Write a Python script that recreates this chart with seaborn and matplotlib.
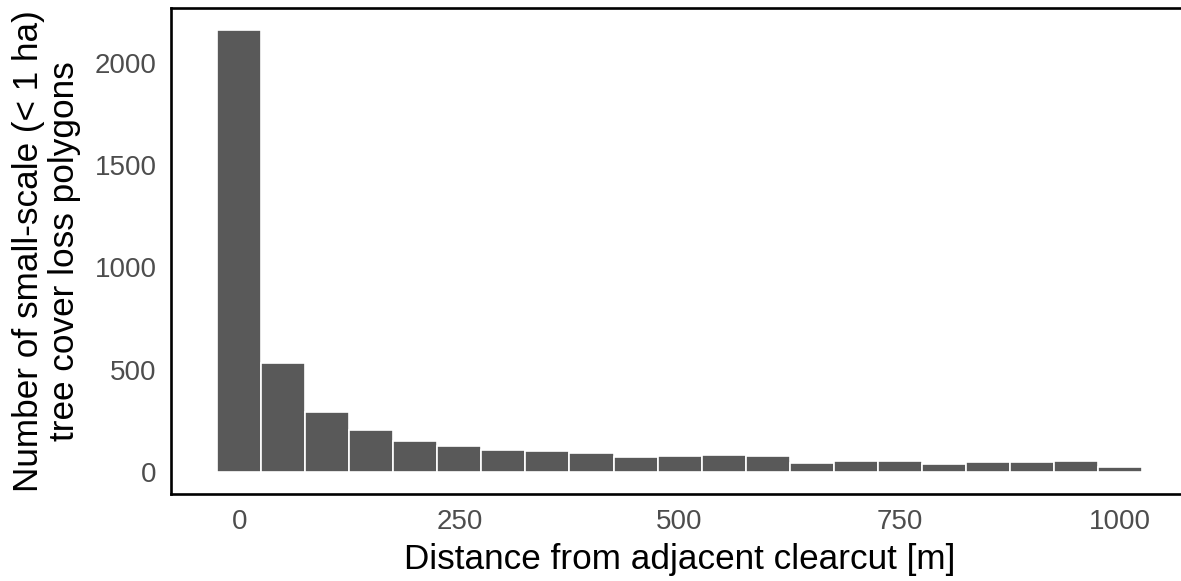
import numpy as np
import pandas as pd
import seaborn as sns
import matplotlib.pyplot as plt

# bin centres (width 50 m) and polygon counts
distance = [0, 50, 100, 150, 200, 250, 300, 350, 400, 450, 500,
            550, 600, 650, 700, 750, 800, 850, 900, 950, 1000]
count = [2160, 532, 292, 207, 150, 127, 109, 102, 91, 72, 80,
         82, 77, 46, 54, 54, 38, 49, 48, 53, 23]
x_ticks = [0, 250, 500, 750, 1000]
y_ticks = [0, 500, 1000, 1500, 2000]

df = pd.DataFrame({'distance': distance, 'count': count})

sns.set_style('white')
plt.rcParams['font.family'] = ['Liberation Sans', 'DejaVu Sans']

fig = plt.figure(figsize=(11.81, 5.81), dpi=100)
ax = fig.add_axes([0.1448, 0.1497, 0.8612, 0.8365])

sns.histplot(data=df, x='distance', weights='count', binwidth=50, binrange=(-25, 1025),
             color='#595959', alpha=1, edgecolor='white', linewidth=1.2, ax=ax)

ax.set_xlim(-77.5, 1077.5)
ax.set_ylim(-108, 2268)
ax.set_xticks(x_ticks)
ax.set_yticks(y_ticks)
ax.tick_params(axis='both', length=4, width=1.1, color='#333333',
               labelsize=20, labelcolor='#4D4D4D', pad=6.5)
ax.set_xlabel('Distance from adjacent clearcut [m]', fontsize=25.3, color='black', labelpad=6)
ax.set_ylabel('Number of small-scale (< 1 ha)\ntree cover loss polygons',
              fontsize=25.3, color='black', labelpad=10, linespacing=1.1)
for s in ax.spines.values():
    s.set_color('black')
    s.set_linewidth(1.9)
ax.spines['right'].set_visible(False)

fig.savefig('out.png', dpi=100)
